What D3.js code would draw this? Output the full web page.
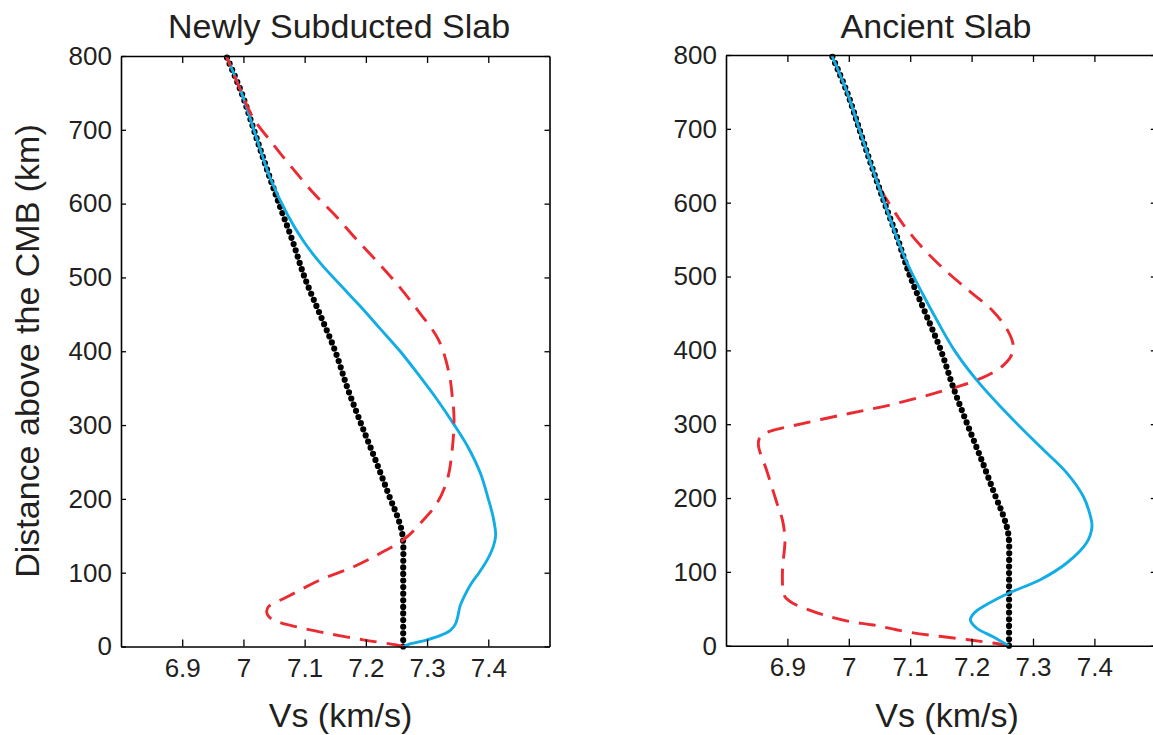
<!DOCTYPE html>
<html>
<head>
<meta charset="utf-8">
<script src="https://cdn.jsdelivr.net/npm/d3@7"></script>
<style>
  html, body { margin: 0; padding: 0; background: #fff; }
  svg { display: block; }
  text { font-family: "Liberation Sans", Arial, Helvetica, sans-serif; fill: #231f20; }
</style>
</head>
<body>
<svg id="chart" width="1153" height="735"></svg>
<script>
// ---------- data ----------
const xTicks = [6.9, 7, 7.1, 7.2, 7.3, 7.4];
const yTicks = [0, 100, 200, 300, 400, 500, 600, 700, 800];
const panelTitles = ["Newly Subducted Slab", "Ancient Slab"];
const xLabel = "Vs (km/s)";
const yLabel = "Distance above the CMB (km)";

// reference profile (black dotted), same in both panels
const refKm = [0, 50, 100, 150, 175, 200, 250, 300, 350, 400, 450, 500, 550, 600, 650, 700, 750, 800];
const refVs = [7.261, 7.261, 7.261, 7.260, 7.252, 7.240, 7.217, 7.193, 7.170, 7.150, 7.125, 7.100, 7.080, 7.058, 7.037, 7.017, 6.997, 6.972];

// newly subducted slab: blue (solid) and red (dashed)
const newBlueKm = [0, 3, 9, 15, 22, 30, 40, 55, 70, 85, 100, 117, 135, 150, 175, 200, 235, 270, 302, 335, 365, 400, 430, 460, 490, 519, 548, 585, 634, 650, 700, 750, 800];
const newBlueVs = [7.261, 7.270, 7.300, 7.322, 7.338, 7.346, 7.350, 7.354, 7.362, 7.372, 7.385, 7.398, 7.408, 7.412, 7.408, 7.400, 7.387, 7.367, 7.343, 7.316, 7.289, 7.256, 7.224, 7.192, 7.158, 7.126, 7.099, 7.072, 7.044, 7.037, 7.017, 6.997, 6.972];

const newRedKm = [0, 2, 9, 18, 27, 34, 40, 47, 54, 67, 90, 108, 126, 147, 167, 194, 226, 266, 310, 340, 370, 415, 454, 490, 521, 553, 585, 612, 648, 682, 716, 750, 800];
const newRedVs = [7.261, 7.250, 7.196, 7.136, 7.085, 7.055, 7.042, 7.038, 7.041, 7.071, 7.125, 7.180, 7.223, 7.265, 7.289, 7.316, 7.333, 7.341, 7.344, 7.341, 7.336, 7.319, 7.286, 7.252, 7.219, 7.183, 7.149, 7.117, 7.080, 7.047, 7.016, 6.997, 6.972];

// ancient slab: blue (solid) and red (dashed)
const oldBlueKm = [0, 3, 12, 24, 35, 45, 53, 71, 89, 112, 139, 161, 180, 202, 234, 270, 315, 360, 400, 440, 480, 520, 560, 600, 650, 700, 750, 800];
const oldBlueVs = [7.261, 7.254, 7.235, 7.208, 7.198, 7.205, 7.219, 7.260, 7.311, 7.355, 7.387, 7.396, 7.392, 7.382, 7.355, 7.311, 7.257, 7.208, 7.172, 7.144, 7.118, 7.094, 7.075, 7.058, 7.037, 7.017, 6.997, 6.972];

const oldRedKm = [0, 1, 8, 18, 28, 33, 42, 50, 57, 65, 75, 103, 143, 170, 193, 238, 270, 280, 287, 293, 297, 312, 326, 344, 358, 370, 380, 392, 405, 425, 453, 480, 507, 538, 570, 600, 615, 650, 700, 750, 800];
const oldRedVs = [7.261, 7.255, 7.195, 7.100, 7.040, 7.000, 6.958, 6.930, 6.910, 6.897, 6.893, 6.892, 6.896, 6.892, 6.883, 6.866, 6.853, 6.854, 6.862, 6.882, 6.904, 6.986, 7.067, 7.149, 7.203, 7.235, 7.252, 7.264, 7.268, 7.260, 7.235, 7.197, 7.159, 7.121, 7.089, 7.065, 7.054, 7.037, 7.017, 6.997, 6.972];

const xDomain = [6.8, 7.5];
const yDomain = [0, 800];

// ---------- layout ----------
const BLUE = "#12ade4";
const RED = "#ec2a32";

const panels = [
  { title: panelTitles[0], x0: 121, x1: 549.5, y0: 646.5, y1: 56, titleX: 339, xLabelX: 340.5,
    series: [
      { km: refKm, vs: refVs, type: "dot" },
      { km: newBlueKm, vs: newBlueVs, type: "blue" },
      { km: newRedKm, vs: newRedVs, type: "red" }
    ], yLabel: true },
  { title: panelTitles[1], x0: 726, x1: 1155.8, y0: 645.7, y1: 55, titleX: 936, xLabelX: 947,
    series: [
      { km: oldRedKm, vs: oldRedVs, type: "red" },
      { km: refKm, vs: refVs, type: "dot" },
      { km: oldBlueKm, vs: oldBlueVs, type: "blue" }
    ], yLabel: false }
];

const svg = d3.select("#chart");
svg.append("rect").attr("width", 1153).attr("height", 735).attr("fill", "#fff");

panels.forEach(p => {
  const x = d3.scaleLinear().domain(xDomain).range([p.x0, p.x1]);
  const y = d3.scaleLinear().domain(yDomain).range([p.y0, p.y1]);
  const g = svg.append("g");

  // curves
  const line = d3.line().x(d => x(d[1])).y(d => y(d[0])).curve(d3.curveCatmullRom.alpha(0.5));
  p.series.forEach(s => {
    const pts = s.km.map((k, i) => [k, s.vs[i]]);
    const path = g.append("path").attr("d", line(pts)).attr("fill", "none");
    if (s.type === "dot") {
      path.attr("stroke", "#000").attr("stroke-width", 6.2)
          .attr("stroke-linecap", "round").attr("stroke-dasharray", "0 6.6");
    } else if (s.type === "blue") {
      path.attr("stroke", BLUE).attr("stroke-width", 2.9);
    } else {
      path.attr("stroke", RED).attr("stroke-width", 2.9).attr("stroke-dasharray", "17 10");
    }
  });

  // axes (box with inward ticks)
  const axB = d3.axisBottom(x).tickValues(xTicks).tickSizeInner(-7).tickSizeOuter(0).tickPadding(12).tickFormat(d => String(d));
  const axT = d3.axisTop(x).tickValues(xTicks).tickSizeInner(-7).tickSizeOuter(0).tickFormat("");
  const axL = d3.axisLeft(y).tickValues(yTicks).tickSizeInner(-5).tickSizeOuter(0).tickPadding(9).tickFormat(d => String(d));
  const axR = d3.axisRight(y).tickValues(yTicks).tickSizeInner(-5).tickSizeOuter(0).tickFormat("");

  const styleAxis = sel => {
    sel.selectAll("path.domain").attr("stroke", "#000").attr("stroke-width", 1.6);
    sel.selectAll(".tick line").attr("stroke", "#000").attr("stroke-width", 1.3);
    sel.selectAll(".tick text").attr("font-size", 26).attr("fill", "#231f20")
       .attr("font-family", "'Liberation Sans', Arial, Helvetica, sans-serif");
  };
  g.append("g").attr("transform", `translate(0,${p.y0})`).call(axB).call(styleAxis);
  g.append("g").attr("transform", `translate(0,${p.y1})`).call(axT).call(styleAxis);
  g.append("g").attr("transform", `translate(${p.x0},0)`).call(axL).call(styleAxis);
  g.append("g").attr("transform", `translate(${p.x1},0)`).call(axR).call(styleAxis);

  // title
  g.append("text").attr("x", p.titleX).attr("y", 38).attr("text-anchor", "middle")
    .attr("font-size", 34).text(p.title);
  // x label
  g.append("text").attr("x", p.xLabelX).attr("y", 727).attr("text-anchor", "middle")
    .attr("font-size", 34).text(xLabel);
  if (p.yLabel) {
    g.append("text").attr("transform", "translate(39,351) rotate(-90)")
      .attr("text-anchor", "middle").attr("font-size", 34).text(yLabel);
  }
});
</script>
</body>
</html>
